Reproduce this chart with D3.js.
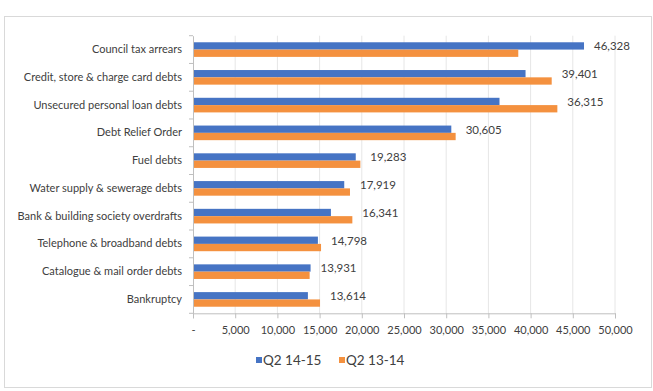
<!DOCTYPE html>
<html><head><meta charset="utf-8">
<script src="https://cdn.jsdelivr.net/npm/d3@7"></script>
<style>
html,body{margin:0;padding:0;background:#fff;}
svg text{font-family:Lato,"Open Sans",sans-serif;fill:#404040;}
</style></head>
<body><div id="chart"></div>
<script>
const categories = ["Council tax arrears","Credit, store & charge card debts","Unsecured personal loan debts","Debt Relief Order","Fuel debts","Water supply & sewerage debts","Bank & building society overdrafts","Telephone & broadband debts","Catalogue & mail order debts","Bankruptcy"];
const seriesNames = ["Q2 14-15","Q2 13-14"];
const q21415 = [46328,39401,36315,30605,19283,17919,16341,14798,13931,13614];
const q21314 = [38540,42500,43170,31120,19830,18600,18880,15170,13820,15050];
const xTicks = [0,5000,10000,15000,20000,25000,30000,35000,40000,45000,50000];
const colors = ["#4674C4","#F4913F"];

(function(){
const W=653,H=391;
const svg=d3.select("#chart").append("svg").attr("width",W).attr("height",H);
svg.append("rect").attr("x",4.5).attr("y",16.5).attr("width",647).attr("height",371)
  .attr("fill","#fff").attr("stroke","#d9d9d9");

const pLeft=193, pRight=615, pTop=35.7, pBottom=313.3;
const x=d3.scaleLinear().domain([0,50000]).range([pLeft,pRight]);
const y=d3.scaleBand().domain(categories).range([pTop,pBottom]).paddingInner(0).paddingOuter(0);
const inner=d3.scaleBand().domain(seriesNames).range([0,y.bandwidth()]).paddingOuter(0.9).paddingInner(0);

// gridlines
svg.append("g").selectAll("line").data(xTicks.slice(1)).join("line")
  .attr("x1",d=>x(d)).attr("x2",d=>x(d)).attr("y1",pTop).attr("y2",pBottom)
  .attr("stroke","#e6e6e6").attr("stroke-width",1);

// bars
const vals=[q21415,q21314];
seriesNames.forEach((s,si)=>{
  svg.append("g").selectAll("rect").data(categories).join("rect")
    .attr("x",x(0)).attr("y",d=>y(d)+inner(s))
    .attr("width",(d,i)=>x(vals[si][i])-x(0)).attr("height",inner.bandwidth())
    .attr("fill",colors[si]);
});

// value labels
svg.append("g").selectAll("text").data(categories).join("text")
  .attr("x",(d,i)=>x(Math.max(q21415[i],q21314[i]))+10)
  .attr("y",d=>y(d)+inner(seriesNames[0])+inner.bandwidth()/2+1.5)
  .attr("dominant-baseline","middle").attr("font-size","11.5px")
  .text((d,i)=>d3.format(",")(q21415[i]));

// x axis
const xAxis=d3.axisBottom(x).tickValues(xTicks).tickSize(5).tickPadding(8)
  .tickFormat(d=>d===0?"-":d3.format(",")(d));
const gx=svg.append("g").attr("transform",`translate(0,${pBottom})`).call(xAxis);
gx.select(".domain").attr("stroke","#bfbfbf");
gx.selectAll(".tick line").attr("stroke","#bfbfbf");
gx.selectAll(".tick text").attr("font-size","11px").attr("fill","#404040").style("font-family","Lato");

// y axis
const yAxis=d3.axisLeft(y).tickSize(0).tickPadding(11);
const gy=svg.append("g").attr("transform",`translate(${pLeft},0)`).call(yAxis);
gy.select(".domain").attr("stroke","#bfbfbf");
gy.selectAll(".tick text").attr("font-size","11px").attr("fill","#404040").style("font-family","Lato");
const bounds=categories.map(c=>y(c)).concat([pBottom]);
svg.append("g").selectAll("line").data(bounds).join("line")
  .attr("x1",pLeft-4).attr("x2",pLeft).attr("y1",d=>d).attr("y2",d=>d).attr("stroke","#bfbfbf");

// legend
const lg=svg.append("g");
const lx=[256,339];
seriesNames.forEach((s,i)=>{
  lg.append("rect").attr("x",lx[i]).attr("y",357).attr("width",6).attr("height",6).attr("fill",colors[i]);
  lg.append("text").attr("x",lx[i]+7).attr("y",362).attr("dominant-baseline","middle")
    .attr("font-size","13.5px").text(s);
});
})();
</script></body></html>
